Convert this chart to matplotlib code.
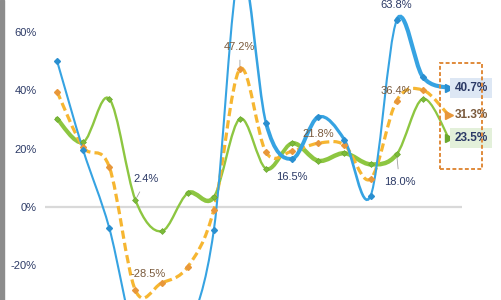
import matplotlib
matplotlib.use('Agg')
import matplotlib.pyplot as plt
from matplotlib.path import Path
from matplotlib.patches import PathPatch, Rectangle
from matplotlib import font_manager

# ---------------- data ----------------
x_idx = list(range(16))
blue = [50.0, 19.5, -7.2, -45.0, -50.0, -42.0, -8.0, 82.0, 28.7, 16.5, 30.8, 23.0, 3.8, 63.8, 44.5, 40.7]
orange = [39.5, 20.5, 13.7, -28.5, -26.0, -20.5, -1.0, 47.2, 18.7, 19.1, 21.8, 21.2, 9.6, 36.4, 40.0, 31.3]
green = [30.2, 22.2, 37.0, 2.4, -8.3, 4.7, 3.4, 30.2, 13.1, 21.8, 15.8, 18.4, 14.6, 18.0, 37.0, 23.5]
ytick_vals = [-20, 0, 20, 40, 60]
ytick_text = ['-20%', '0%', '20%', '40%', '60%']

# point labels: (series, index, text)
point_labels = [
    ('green', 3, '2.4%'),
    ('orange', 3, '-28.5%'),
    ('orange', 7, '47.2%'),
    ('orange', 10, '21.8%'),
    ('blue', 9, '16.5%'),
    ('blue', 13, '63.8%'),
    ('orange', 13, '36.4%'),
    ('green', 13, '18.0%'),
]

# ---------------- style ----------------
C_BLUE = '#36a3e2'
C_ORANGE = '#f6b631'
C_ORANGE_MK = '#e8973a'
C_GREEN = '#8dc641'
C_NAVY = '#2c3a66'
C_BROWN = '#7a5a3c'

avail = {f.name for f in font_manager.fontManager.ttflist}
FONT = ['Liberation Sans Narrow', 'DejaVu Sans'] if 'Liberation Sans Narrow' in avail else ['Liberation Sans', 'DejaVu Sans']
plt.rcParams['font.family'] = FONT

# per-segment line widths (style only)
blue_w = [1.5, 1.5, 1.5, 1.5, 1.5, 1.5, 1.5, 1.8, 2.8, 2.8, 2.3, 1.9, 1.5, 3.0, 3.0]
green_w = [3.0, 1.7, 1.7, 1.7, 1.7, 3.2, 1.7, 1.7, 2.8, 3.2, 3.2, 3.2, 3.2, 1.7, 1.6]


def bezier_segments(xs, ys):
    """Catmull-Rom control points for each segment (in data units)."""
    n = len(xs)
    segs = []
    for i in range(n - 1):
        p0 = (xs[max(i - 1, 0)], ys[max(i - 1, 0)])
        p1 = (xs[i], ys[i])
        p2 = (xs[i + 1], ys[i + 1])
        p3 = (xs[min(i + 2, n - 1)], ys[min(i + 2, n - 1)])
        c1 = (p1[0] + (p2[0] - p0[0]) / 6.0, p1[1] + (p2[1] - p0[1]) / 6.0)
        c2 = (p2[0] - (p3[0] - p1[0]) / 6.0, p2[1] - (p3[1] - p1[1]) / 6.0)
        segs.append((p1, c1, c2, p2))
    return segs


def draw_smooth(ax, xs, ys, color, widths=None, lw=2.0, dashes=None, z=2):
    segs = bezier_segments(xs, ys)
    if widths is None:
        verts = [segs[0][0]]
        codes = [Path.MOVETO]
        for s in segs:
            verts += [s[1], s[2], s[3]]
            codes += [Path.CURVE4] * 3
        patch = PathPatch(Path(verts, codes), fill=False, edgecolor=color,
                          lw=lw, capstyle='butt', zorder=z)
        if dashes:
            patch.set_linestyle((0, dashes))
        ax.add_patch(patch)
    else:
        for s, w in zip(segs, widths):
            patch = PathPatch(Path(list(s), [Path.MOVETO] + [Path.CURVE4] * 3),
                              fill=False, edgecolor=color, lw=w,
                              capstyle='round', zorder=z)
            ax.add_patch(patch)


fig = plt.figure(figsize=(5.01, 3.0), dpi=100)
ax = fig.add_axes([45 / 501, 0, 417 / 501, 1])
ax.set_xlim(-0.46, 15.5)
ax.set_ylim(-31.8, 70.8)

# grey strip at the left edge of the picture
fig.patches.append(Rectangle((0, 0), 4 / 501, 1, transform=fig.transFigure,
                             color='#8c8c8c', zorder=0))

ax.axhline(0, color='#d9d9d9', lw=1.6, zorder=1)

draw_smooth(ax, x_idx, green, C_GREEN, widths=green_w, z=2)
draw_smooth(ax, x_idx, orange, C_ORANGE, lw=2.3, dashes=(2.6, 1.3), z=3)
draw_smooth(ax, x_idx, blue, C_BLUE, widths=blue_w, z=4)

# markers
ax.plot(x_idx[:-1], green[:-1], 'D', ms=3.0, color='#7cbb3a', mec='#6aa72e', mew=0.5, zorder=5)
ax.plot(x_idx[:-1], orange[:-1], 'D', ms=3.0, color=C_ORANGE_MK, mec=C_ORANGE_MK, zorder=5)
ax.plot(x_idx[:-1], blue[:-1], 'D', ms=3.0, color='#2a8fd0', mec='#2a8fd0', zorder=5)
ax.plot(x_idx[-1], blue[-1], '>', ms=5.5, color='#2a8fd0', zorder=6)
ax.plot(x_idx[-1], orange[-1], '>', ms=5.5, color=C_ORANGE_MK, zorder=6)
ax.plot(x_idx[-1], green[-1], '>', ms=5.5, color='#6aa72e', zorder=6)

series = {'blue': blue, 'orange': orange, 'green': green}
label_style = {
    # (dx, dy in points, color, leader)
    ('green', 3): (8, 15, C_NAVY, True),
    ('orange', 3): (9, 12, C_BROWN, False),
    ('orange', 7): (0, 16, C_BROWN, True),
    ('orange', 10): (0, 7, C_BROWN, False),
    ('blue', 9): (0, -13, C_NAVY, False),
    ('blue', 13): (0, 11, C_NAVY, False),
    ('orange', 13): (0, 7, C_BROWN, False),
    ('green', 13): (2, -20, C_NAVY, True),
}
for name, i, txt in point_labels:
    dx, dy, col, leader = label_style[(name, i)]
    kw = {}
    if leader:
        kw['arrowprops'] = dict(arrowstyle='-', color='#a0a0a0', lw=0.6,
                                shrinkA=4, shrinkB=2)
    ax.annotate(txt, (x_idx[i], series[name][i]), xytext=(dx, dy),
                textcoords='offset points', ha='center', va='center',
                fontsize=8, color=col, zorder=7, **kw)

# end labels
end_boxes = [
    (blue[-1], '#dde7f4', C_NAVY),
    (orange[-1], 'none', C_BROWN),
    (green[-1], '#e3f0da', C_NAVY),
]
for val, fc, col in end_boxes:
    bbox = None if fc == 'none' else dict(boxstyle='square,pad=0.35', fc=fc, ec='none')
    ax.annotate(f'{val:.1f}%', (x_idx[-1], val), xytext=(16, 0),
                textcoords='offset points', ha='center', va='center',
                fontsize=8.5, fontweight='bold', color=col, bbox=bbox,
                annotation_clip=False, zorder=7)

ax.add_patch(Rectangle((440 / 501, (300 - 169) / 300), 42 / 501, 106 / 300,
                       transform=fig.transFigure, fill=False, ec='#e08a3a',
                       lw=1.4, ls=(0, (2, 1.2)), zorder=8, clip_on=False))

ax.set_yticks(ytick_vals)
ax.set_yticklabels(ytick_text)
ax.set_xticks([])
ax.tick_params(axis='y', length=0, pad=6, labelsize=8, labelcolor=C_NAVY)
for s in ax.spines.values():
    s.set_visible(False)

fig.savefig('out.png', dpi=100)
